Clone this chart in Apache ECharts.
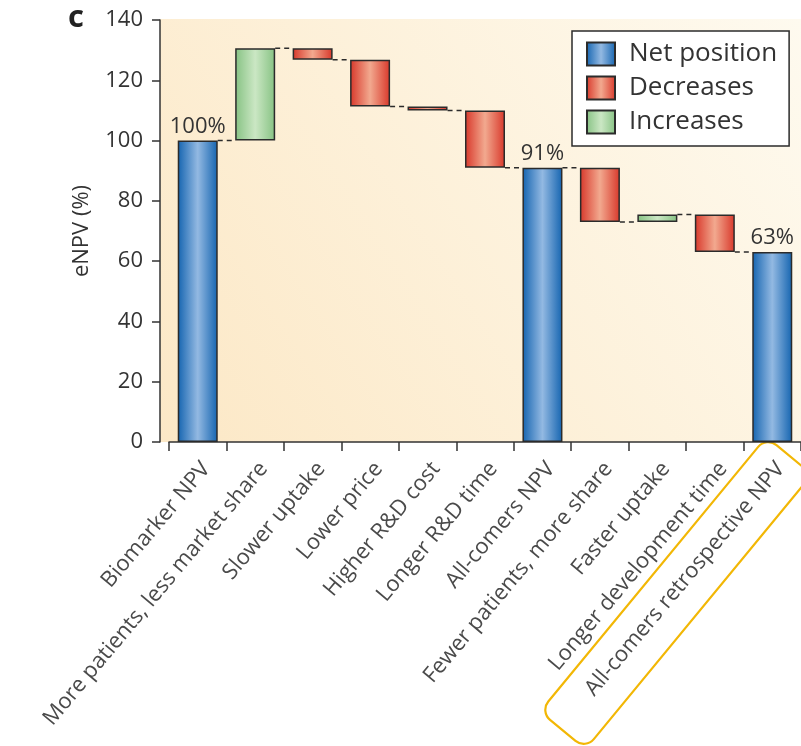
<!DOCTYPE html>
<html>
<head>
<meta charset="utf-8">
<script src="https://cdn.jsdelivr.net/npm/echarts@6/dist/echarts.min.js"></script>
<style>
  html, body { margin: 0; padding: 0; background: #fff; }
  #chart { width: 801px; height: 746px; }
</style>
</head>
<body>
<div id="chart"></div>
<script>
// Waterfall of eNPV (%) from the biomarker case to the all-comers retrospective case
const categories = [
  'Biomarker NPV',
  'More patients, less market share',
  'Slower uptake',
  'Lower price',
  'Higher R&D cost',
  'Longer R&D time',
  'All-comers NPV',
  'Fewer patients, more share',
  'Faster uptake',
  'Longer development time',
  'All-comers retrospective NPV'
];
// 'net' entries are totals; 'inc' / 'dec' entries are changes from the previous total
const kinds = ['net', 'inc', 'dec', 'dec', 'dec', 'dec', 'net', 'dec', 'inc', 'dec', 'net'];
const values = [100, 30.6, -3.8, -15.5, -1.3, -19, 91, -18, 2.5, -12.5, 63];
const netLabels = ['100%', '', '', '', '', '', '91%', '', '', '', '63%'];
const yTicks = [0, 20, 40, 60, 80, 100, 120, 140];

// running totals -> invisible base + visible segment for each category
const base = [], netData = [], decData = [], incData = [], levels = [];
let total = 0;
values.forEach((v, i) => {
  const k = kinds[i];
  if (k === 'net') {
    total = v;
    base.push(0); netData.push(v); decData.push('-'); incData.push('-');
  } else if (k === 'inc') {
    base.push(total); incData.push(v); netData.push('-'); decData.push('-');
    total += v;
  } else {
    total += v;
    base.push(total); decData.push(-v); netData.push('-'); incData.push('-');
  }
  levels.push(total);
});
const connectors = levels.slice(0, -1).map((lv, i) => [i, lv]);

const chart = echarts.init(document.getElementById('chart'));
const FONT = '"Open Sans", "Noto Sans", sans-serif';
const BAR_W = 40;

function cyl(edge, mid) {
  return new echarts.graphic.LinearGradient(0, 0, 1, 0, [
    { offset: 0, color: edge },
    { offset: 0.5, color: mid },
    { offset: 1, color: edge }
  ]);
}
const edgeStyle = { borderColor: '#2b2b2b', borderWidth: 1.5 };

chart.setOption({
  animation: false,
  backgroundColor: '#ffffff',
  textStyle: { fontFamily: FONT },
  graphic: [
    {
      type: 'rect', z: -10, silent: true,
      shape: { x: 160, y: 19, width: 641, height: 423 },
      style: {
        fill: new echarts.graphic.LinearGradient(0, 1, 1, 0, [
          { offset: 0, color: '#fce8c6' },
          { offset: 1, color: '#fefaef' }
        ])
      }
    },
    {
      type: 'text', left: 68, top: 3,
      style: { text: 'c', font: 'bold 31px ' + FONT, fill: '#222' }
    },
    {
      type: 'rect', silent: true,
      x: 676, y: 593, rotation: 50.5 * Math.PI / 180,
      shape: { x: -178, y: -29.5, width: 356, height: 59, r: 13 },
      style: { fill: 'none', stroke: '#f2b705', lineWidth: 2.2 }
    }
  ],
  legend: {
    orient: 'vertical',
    left: 572, top: 31,
    data: ['Net position', 'Decreases', 'Increases'],
    icon: 'rect',
    itemWidth: 28, itemHeight: 23, itemGap: 8,
    padding: [10, 12, 11, 14],
    backgroundColor: '#ffffff',
    borderColor: '#2b2b2b', borderWidth: 1.5, borderRadius: 0,
    textStyle: { fontSize: 26, color: '#333', fontFamily: FONT, padding: [0, 0, 0, 9] }
  },
  grid: { left: 169, right: -2, top: 20, bottom: 304, containLabel: false },
  xAxis: {
    type: 'category',
    data: categories,
    axisLine: { lineStyle: { color: '#333', width: 1.5 } },
    axisTick: { show: true, length: 9, lineStyle: { color: '#333', width: 1.5 } },
    axisLabel: {
      interval: 0, rotate: 50, margin: 16, verticalAlign: 'top',
      fontSize: 22, color: '#4a4a4a', fontFamily: FONT
    },
    splitLine: { show: false }
  },
  yAxis: {
    type: 'value',
    min: 0, max: 140, interval: 20,
    offset: 9,
    name: 'eNPV (%)',
    nameLocation: 'middle', nameGap: 67, nameRotate: 90,
    nameTextStyle: { fontSize: 22, color: '#333', fontFamily: FONT },
    axisLine: { show: true, lineStyle: { color: '#333', width: 1.5 } },
    axisTick: { show: true, length: 8, lineStyle: { color: '#333', width: 1.5 } },
    axisLabel: {
      fontSize: 22, color: '#333', margin: 17, fontFamily: FONT,
      formatter: v => (yTicks.indexOf(v) >= 0 ? String(v) : '')
    },
    splitLine: { show: false }
  },
  series: [
    {
      name: 'base', type: 'bar', stack: 'w', barWidth: BAR_W,
      data: base, itemStyle: { color: 'transparent' },
      emphasis: { disabled: true }, silent: true
    },
    {
      name: 'Net position', type: 'bar', stack: 'w', barWidth: BAR_W,
      data: netData,
      itemStyle: Object.assign({ color: cyl('#1464b0', '#93b9e2') }, edgeStyle),
      label: {
        show: true, position: 'top', distance: 3,
        fontSize: 22, color: '#333', fontFamily: FONT,
        formatter: p => netLabels[p.dataIndex]
      }
    },
    {
      name: 'Decreases', type: 'bar', stack: 'w', barWidth: BAR_W,
      data: decData,
      itemStyle: Object.assign({ color: cyl('#d8372a', '#f2a98f') }, edgeStyle)
    },
    {
      name: 'Increases', type: 'bar', stack: 'w', barWidth: BAR_W,
      data: incData,
      itemStyle: Object.assign({ color: cyl('#86c283', '#cbe7c4') }, edgeStyle)
    },
    {
      // dashed connectors between consecutive bar ends
      name: 'connectors', type: 'custom', silent: true, z: 1,
      data: connectors,
      renderItem: (params, api) => {
        const i = api.value(0), lv = api.value(1);
        const a = api.coord([i, lv]);
        const b = api.coord([i + 1, lv]);
        return {
          type: 'line',
          shape: { x1: a[0] + BAR_W / 2, y1: a[1], x2: b[0] - BAR_W / 2, y2: b[1] },
          style: { stroke: '#2b2b2b', lineWidth: 1.5, lineDash: [5, 4] }
        };
      }
    }
  ]
});
</script>
</body>
</html>
